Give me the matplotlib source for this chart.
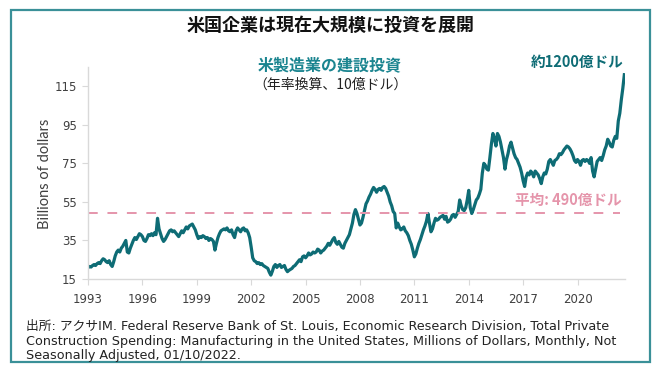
import numpy as np
import matplotlib
matplotlib.use("Agg")
import matplotlib.pyplot as plt
from matplotlib.patches import Rectangle

# monthly values, billions of dollars (annual rate), Jan 1993 - Aug 2022
spending = {
    1993: [21.0, 21.5, 21.2, 22.0, 22.5, 22.0, 23.0, 23.5, 23.0, 24.5, 25.5, 25.0],
    1994: [24.0, 23.5, 24.5, 22.5, 21.5, 24.0, 27.0, 29.0, 30.0, 29.0, 31.0, 32.0],
    1995: [33.5, 35.0, 29.0, 28.5, 31.0, 33.0, 35.0, 36.5, 35.5, 37.0, 38.5, 38.0],
    1996: [37.0, 35.0, 34.5, 36.0, 38.0, 37.5, 38.5, 37.5, 39.0, 38.0, 46.5, 41.0],
    1997: [38.5, 36.0, 34.5, 35.5, 37.0, 38.5, 40.0, 40.5, 39.5, 40.0, 39.0, 38.0],
    1998: [37.0, 38.5, 40.0, 39.0, 40.5, 42.0, 41.0, 42.5, 43.0, 43.5, 42.0, 40.5],
    1999: [38.0, 36.0, 37.0, 36.5, 37.5, 37.0, 36.0, 36.5, 35.0, 36.0, 35.5, 34.5],
    2000: [30.0, 33.5, 36.5, 38.5, 40.0, 40.5, 41.0, 40.5, 41.5, 40.0, 39.5, 40.5],
    2001: [38.0, 36.5, 40.0, 41.5, 40.5, 39.5, 41.0, 41.5, 40.0, 40.5, 39.0, 36.5],
    2002: [31.5, 26.0, 24.5, 24.0, 23.0, 23.5, 22.5, 23.0, 22.0, 21.5, 21.0, 20.5],
    2003: [18.5, 17.0, 19.0, 21.5, 22.5, 21.0, 22.0, 22.5, 21.0, 21.5, 22.0, 20.0],
    2004: [18.8, 19.5, 20.0, 20.5, 21.5, 22.0, 23.0, 24.0, 25.0, 24.0, 26.5, 27.0],
    2005: [26.0, 27.0, 28.5, 27.5, 28.0, 29.0, 28.5, 29.0, 30.5, 30.0, 28.5, 29.5],
    2006: [30.0, 31.0, 32.0, 33.5, 32.5, 34.0, 35.5, 36.5, 34.0, 33.0, 34.5, 33.0],
    2007: [31.5, 31.0, 33.5, 35.0, 36.5, 38.0, 41.0, 44.0, 48.5, 51.0, 49.0, 46.0],
    2008: [43.0, 44.0, 47.0, 50.5, 54.0, 55.5, 57.5, 59.0, 61.0, 62.5, 61.5, 60.0],
    2009: [61.5, 62.0, 61.0, 62.5, 63.0, 62.0, 60.0, 58.0, 55.0, 53.0, 50.0, 49.0],
    2010: [41.5, 44.0, 42.0, 40.5, 41.0, 42.0, 40.0, 39.0, 37.5, 35.0, 33.0, 30.0],
    2011: [26.5, 28.0, 31.0, 33.5, 35.5, 38.0, 40.5, 42.5, 45.0, 49.0, 44.0, 39.5],
    2012: [41.0, 44.0, 46.5, 45.5, 46.0, 47.0, 47.5, 48.0, 46.0, 47.5, 44.5, 45.0],
    2013: [46.0, 48.0, 48.5, 47.0, 48.5, 50.0, 56.0, 53.0, 51.0, 50.5, 52.0, 56.0],
    2014: [61.0, 52.0, 49.0, 51.0, 53.5, 56.0, 57.0, 59.0, 61.5, 70.0, 75.0, 74.0],
    2015: [72.0, 71.5, 78.0, 85.0, 90.5, 88.0, 84.0, 90.5, 89.0, 86.0, 82.0, 78.0],
    2016: [72.0, 77.0, 80.0, 84.0, 86.0, 83.0, 80.0, 78.0, 77.0, 75.0, 73.0, 70.0],
    2017: [66.0, 63.0, 68.0, 70.0, 69.0, 71.0, 70.0, 68.0, 71.0, 70.0, 69.0, 67.0],
    2018: [64.5, 68.0, 70.0, 69.5, 72.0, 76.0, 77.0, 75.5, 74.0, 76.5, 77.0, 78.0],
    2019: [80.0, 79.5, 80.5, 82.0, 83.0, 84.0, 83.5, 82.5, 81.0, 79.0, 76.5, 75.5],
    2020: [77.0, 76.0, 74.0, 76.5, 77.0, 76.0, 77.0, 76.5, 75.0, 78.0, 71.0, 68.0],
    2021: [72.0, 76.0, 77.0, 78.0, 76.5, 79.0, 82.0, 84.0, 87.5, 86.0, 84.0, 83.5],
    2022: [87.0, 89.0, 88.0, 97.0, 101.0, 108.0, 114.0, 121.0],
}
average = 49
tick_years = [1993, 1996, 1999, 2002, 2005, 2008, 2011, 2014, 2017, 2020]
y_ticks = [15, 35, 55, 75, 95, 115]

values = [v for yr in spending for v in spending[yr]]
x = [yr + m / 12 for yr in spending for m in range(len(spending[yr]))]

teal = "#0E6C75"
frame_col = "#3A9098"
pink = "#E595AB"
grey = "#D9D9D9"
txt = "#404040"
cjk = ["Noto Sans CJK JP", "DejaVu Sans"]

fig = plt.figure(figsize=(6.55, 3.72), dpi=100)
ax = fig.add_axes([0.1344, 0.25, 0.8198, 0.5699])

ax.plot(x, values, color=teal, lw=2.3, solid_joinstyle="round")
ax.axhline(average, color=pink, lw=1.4, dashes=(5, 5), xmax=0.99)

ax.set_xlim(1993, 2022.62)
ax.set_ylim(15, 125)
ax.set_xticks(tick_years, [str(t) for t in tick_years])
ax.set_yticks(y_ticks)
for s in ["top", "right"]:
    ax.spines[s].set_visible(False)
for s in ["left", "bottom"]:
    ax.spines[s].set_color(grey)
    ax.spines[s].set_linewidth(1.0)
ax.tick_params(axis="both", colors=grey, labelcolor=txt, labelsize=8.5, length=4)
ax.tick_params(axis="x", pad=6)
ax.tick_params(axis="y", pad=4)

fig.text(0.0687, 0.532, "Billions of dollars", rotation=90, ha="center", va="center",
         fontsize=10.5, color=txt, family="Lato")

fig.text(0.504, 0.933, "米国企業は現在大規模に投資を展開", ha="center", va="center",
         fontsize=13, weight="bold", family=cjk, color="#111111")
fig.text(0.504, 0.825, "米製造業の建設投資", ha="center", va="center",
         fontsize=11.5, weight="bold", family=cjk, color="#1B8590")
fig.text(0.504, 0.772, "（年率換算、10億ドル）", ha="center", va="center",
         fontsize=10, family=cjk, color="#222222")
fig.text(0.881, 0.833, "約1200億ドル", ha="center", va="center",
         fontsize=10.5, weight="bold", family=cjk, color=teal)
fig.text(0.867, 0.462, "平均: 490億ドル", ha="center", va="center",
         fontsize=10.5, weight="bold", family=cjk, color=pink)

source = ("出所: アクサIM. Federal Reserve Bank of St. Louis, Economic Research Division, Total Private\n"
          "Construction Spending: Manufacturing in the United States, Millions of Dollars, Monthly, Not\n"
          "Seasonally Adjusted, 01/10/2022.")
fig.text(0.0397, 0.139, source, ha="left", va="top", fontsize=9.2, color="#222222",
         family=["DejaVu Sans", "Noto Sans CJK JP"], linespacing=1.15)

fig.patches.append(Rectangle((11 / 655, 1 - 362 / 372), 639 / 655, 352 / 372,
                             transform=fig.transFigure, fill=False,
                             edgecolor=frame_col, lw=1.6))

fig.savefig("out.png", dpi=100)
